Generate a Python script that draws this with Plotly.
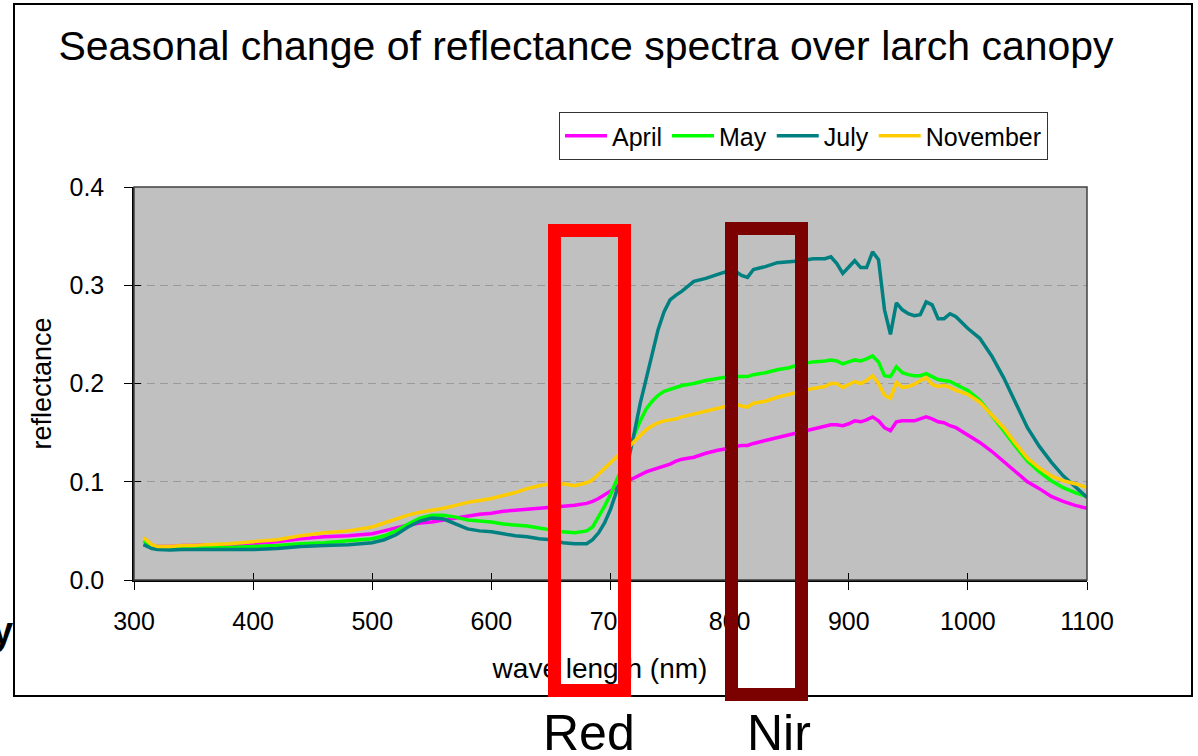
import plotly.graph_objects as go

# ---------------- data ----------------
wavelength = [308, 315, 320, 330, 340, 350, 360, 380, 400, 420, 440, 460, 480, 500, 510, 520, 530, 540,
              550, 560, 570, 580, 590, 600, 610, 620, 630, 640, 650, 660, 670, 680, 685, 690, 695, 700,
              705, 710, 715, 720, 725, 730, 735, 740, 745, 750, 755, 760, 770, 780, 790, 800, 805, 810,
              815, 820, 830, 840, 850, 860, 870, 880, 885, 890, 895, 900, 905, 910, 915, 920, 925, 930,
              935, 940, 945, 950, 955, 960, 965, 970, 975, 980, 985, 990, 1000, 1010, 1020, 1030, 1040,
              1050, 1060, 1070, 1080, 1090, 1100]

april = [0.036, 0.034, 0.034, 0.034, 0.035, 0.035, 0.036, 0.036, 0.037, 0.039, 0.042, 0.044, 0.045, 0.047,
         0.050, 0.053, 0.056, 0.058, 0.059, 0.061, 0.063, 0.065, 0.067, 0.068, 0.070, 0.071, 0.072, 0.073,
         0.074, 0.075, 0.076, 0.078, 0.080, 0.083, 0.087, 0.091, 0.095, 0.098, 0.101, 0.104, 0.107, 0.110,
         0.112, 0.114, 0.116, 0.118, 0.121, 0.123, 0.125, 0.129, 0.132, 0.134, 0.136, 0.137, 0.137, 0.139,
         0.142, 0.145, 0.148, 0.151, 0.154, 0.157, 0.158, 0.158, 0.157, 0.159, 0.162, 0.161, 0.163, 0.166,
         0.162, 0.155, 0.152, 0.161, 0.162, 0.162, 0.162, 0.164, 0.166, 0.164, 0.161, 0.160, 0.157, 0.155,
         0.148, 0.140, 0.131, 0.121, 0.110, 0.100, 0.093, 0.085, 0.080, 0.076, 0.073]

may = [0.040, 0.034, 0.033, 0.033, 0.033, 0.033, 0.033, 0.033, 0.034, 0.035, 0.037, 0.038, 0.040, 0.042,
       0.045, 0.050, 0.057, 0.063, 0.066, 0.066, 0.064, 0.061, 0.060, 0.059, 0.057, 0.056, 0.055, 0.053,
       0.051, 0.049, 0.048, 0.050, 0.054, 0.064, 0.075, 0.087, 0.100, 0.115, 0.130, 0.148, 0.162, 0.174,
       0.182, 0.188, 0.192, 0.194, 0.196, 0.198, 0.200, 0.203, 0.205, 0.207, 0.207, 0.207, 0.207, 0.209,
       0.211, 0.214, 0.216, 0.220, 0.222, 0.223, 0.224, 0.223, 0.220, 0.222, 0.224, 0.223, 0.225, 0.228,
       0.222, 0.208, 0.207, 0.217, 0.211, 0.209, 0.208, 0.208, 0.210, 0.207, 0.204, 0.203, 0.202, 0.199,
       0.193, 0.183, 0.168, 0.152, 0.136, 0.121, 0.110, 0.101, 0.094, 0.089, 0.085]

july = [0.036, 0.032, 0.031, 0.0305, 0.031, 0.031, 0.031, 0.031, 0.031, 0.032, 0.034, 0.035, 0.036, 0.038,
        0.041, 0.046, 0.054, 0.060, 0.063, 0.062, 0.057, 0.052, 0.050, 0.049, 0.047, 0.045, 0.044, 0.042,
        0.041, 0.038, 0.037, 0.037, 0.041, 0.048, 0.058, 0.072, 0.090, 0.106, 0.122, 0.150, 0.180, 0.205,
        0.230, 0.255, 0.273, 0.285, 0.290, 0.294, 0.304, 0.307, 0.311, 0.315, 0.314, 0.310, 0.308, 0.316,
        0.319, 0.323, 0.324, 0.325, 0.327, 0.327, 0.329, 0.322, 0.312, 0.318, 0.325, 0.318, 0.318, 0.334,
        0.326, 0.275, 0.250, 0.282, 0.275, 0.271, 0.269, 0.270, 0.283, 0.280, 0.266, 0.266, 0.271, 0.268,
        0.256, 0.246, 0.228, 0.206, 0.181, 0.155, 0.136, 0.120, 0.106, 0.095, 0.084]

november = [0.043, 0.036, 0.034, 0.034, 0.035, 0.035, 0.036, 0.037, 0.039, 0.041, 0.045, 0.048, 0.050, 0.054,
            0.058, 0.062, 0.066, 0.069, 0.071, 0.073, 0.076, 0.079, 0.081, 0.083, 0.086, 0.089, 0.093, 0.096,
            0.098, 0.098, 0.096, 0.099, 0.102, 0.108, 0.114, 0.120, 0.126, 0.131, 0.135, 0.141, 0.148, 0.153,
            0.157, 0.160, 0.162, 0.163, 0.164, 0.166, 0.169, 0.172, 0.175, 0.178, 0.179, 0.177, 0.176, 0.180,
            0.182, 0.186, 0.189, 0.192, 0.195, 0.197, 0.200, 0.200, 0.196, 0.199, 0.202, 0.200, 0.203, 0.208,
            0.200, 0.188, 0.185, 0.201, 0.196, 0.197, 0.199, 0.203, 0.206, 0.199, 0.197, 0.198, 0.196, 0.193,
            0.189, 0.181, 0.168, 0.155, 0.139, 0.124, 0.114, 0.106, 0.101, 0.098, 0.094]

series_names = ["April", "May", "July", "November"]
series_values = [april, may, july, november]
series_colors = ["#FF00FF", "#00FF00", "#008080", "#FFCC00"]

x_ticks = [300, 400, 500, 600, 700, 800, 900, 1000, 1100]
y_ticks = [0.0, 0.1, 0.2, 0.3, 0.4]

title_text = "Seasonal change of reflectance spectra over larch canopy"
x_title = "wave length (nm)"
y_title = "reflectance"
band_labels = ["Red", "Nir"]

FONT = "Liberation Sans, Arial, sans-serif"

fig = go.Figure()
for name, vals, col in zip(series_names, series_values, series_colors):
    fig.add_trace(go.Scatter(x=wavelength, y=vals, name=name, mode="lines",
                             line=dict(color=col, width=3.5)))
# empty helper trace so the overlaid axes (inner half of the cross tick marks) are drawn
fig.add_trace(go.Scatter(x=[], y=[], xaxis="x2", yaxis="y2", showlegend=False, hoverinfo="skip"))

W, H = 1198, 756
L, R, T, B = 134, 111, 187, 176
pw, ph = W - L - R, H - T - B


def px(xp):
    return (xp - L) / pw


def py(yp):
    return (H - B - yp) / ph


fig.update_layout(
    width=W, height=H,
    margin=dict(l=L, r=R, t=T, b=B, autoexpand=False),
    paper_bgcolor="white", plot_bgcolor="#C0C0C0",
    font=dict(family=FONT, color="black", size=25),
    title=dict(text=title_text, font=dict(size=41, color="black", family=FONT),
               x=px(586), xref="paper", xanchor="center",
               y=1 - 46 / H, yref="container", yanchor="middle"),
    showlegend=True,
    legend=dict(orientation="h", x=px(559), y=py(112), xanchor="left", yanchor="top",
                bgcolor="white", bordercolor="#333333", borderwidth=1,
                font=dict(size=25, family=FONT), itemwidth=42, traceorder="normal"),
    xaxis2=dict(overlaying="x", matches="x", anchor="y", side="bottom", range=[300, 1100],
                tickvals=x_ticks, showticklabels=False, ticks="inside", ticklen=7,
                tickcolor="black", tickwidth=1, showgrid=False, zeroline=False, showline=False),
    yaxis2=dict(overlaying="y", matches="y", anchor="x", side="left", range=[0, 0.4],
                tickvals=y_ticks, showticklabels=False, ticks="inside", ticklen=7,
                tickcolor="black", tickwidth=1, showgrid=False, zeroline=False, showline=False),
)

fig.layout.xaxis.update(range=[300, 1100], tickvals=x_ticks, ticktext=[str(v) for v in x_ticks],
                        showgrid=False, zeroline=False, showline=True, linecolor="black", linewidth=1.5,
                        ticks="outside", ticklen=8, tickcolor="black", tickwidth=1,
                        tickfont=dict(size=25, family=FONT), ticklabelstandoff=10)
fig.layout.yaxis.update(range=[0, 0.4], tickvals=y_ticks, ticktext=[f"{v:.1f}" for v in y_ticks],
                        showgrid=True, gridcolor="#9A9A9A", griddash="8px,5px", gridwidth=1,
                        zeroline=False, showline=True, linecolor="black", linewidth=1.5,
                        ticks="outside", ticklen=8, tickcolor="black", tickwidth=1,
                        tickfont=dict(size=25, family=FONT), ticklabelstandoff=15,
                        title=dict(text=y_title, font=dict(size=27, family=FONT), standoff=10))

shapes = []
# outer chart border
shapes.append(dict(type="rect", xref="paper", yref="paper", x0=px(14), x1=px(1192), y0=py(696), y1=py(4),
                   line=dict(color="black", width=2), layer="below"))
# plot-area border
shapes.append(dict(type="rect", xref="paper", yref="paper", x0=0, x1=1, y0=0, y1=1,
                   line=dict(color="#404040", width=1.5), layer="above"))
# x-axis title as a shape label so the band boxes can cover it
shapes.append(dict(type="rect", xref="paper", yref="paper", x0=px(470), x1=px(730), y0=py(680), y1=py(650),
                   line=dict(width=0), fillcolor="rgba(0,0,0,0)", layer="above",
                   label=dict(text=x_title, font=dict(size=28, family=FONT, color="black"),
                              textposition="middle center")))
# Red band box
shapes.append(dict(type="rect", xref="paper", yref="paper", x0=px(554.5), x1=px(624.5),
                   y0=py(690.5), y1=py(230.5), line=dict(color="#FF0000", width=13), layer="above"))
# NIR band box
shapes.append(dict(type="rect", xref="paper", yref="paper", x0=px(731.5), x1=px(801.5),
                   y0=py(694.5), y1=py(228.5), line=dict(color="#7B0000", width=13), layer="above"))
fig.update_layout(shapes=shapes)

annotations = [
    dict(text=band_labels[0], x=px(589), y=py(733), xref="paper", yref="paper", showarrow=False,
         xanchor="center", yanchor="middle", font=dict(size=50, family=FONT, color="black")),
    dict(text=band_labels[1], x=px(779), y=py(733), xref="paper", yref="paper", showarrow=False,
         xanchor="center", yanchor="middle", font=dict(size=50, family=FONT, color="black")),
    dict(text="<b>y</b>", x=px(15), y=py(631), xref="paper", yref="paper", showarrow=False,
         xanchor="right", yanchor="middle", font=dict(size=38, family=FONT, color="black")),
]
fig.update_layout(annotations=annotations)

fig.write_html("out.html", config={"displayModeBar": False},
               post_script="document.body.style.margin='0px';")
